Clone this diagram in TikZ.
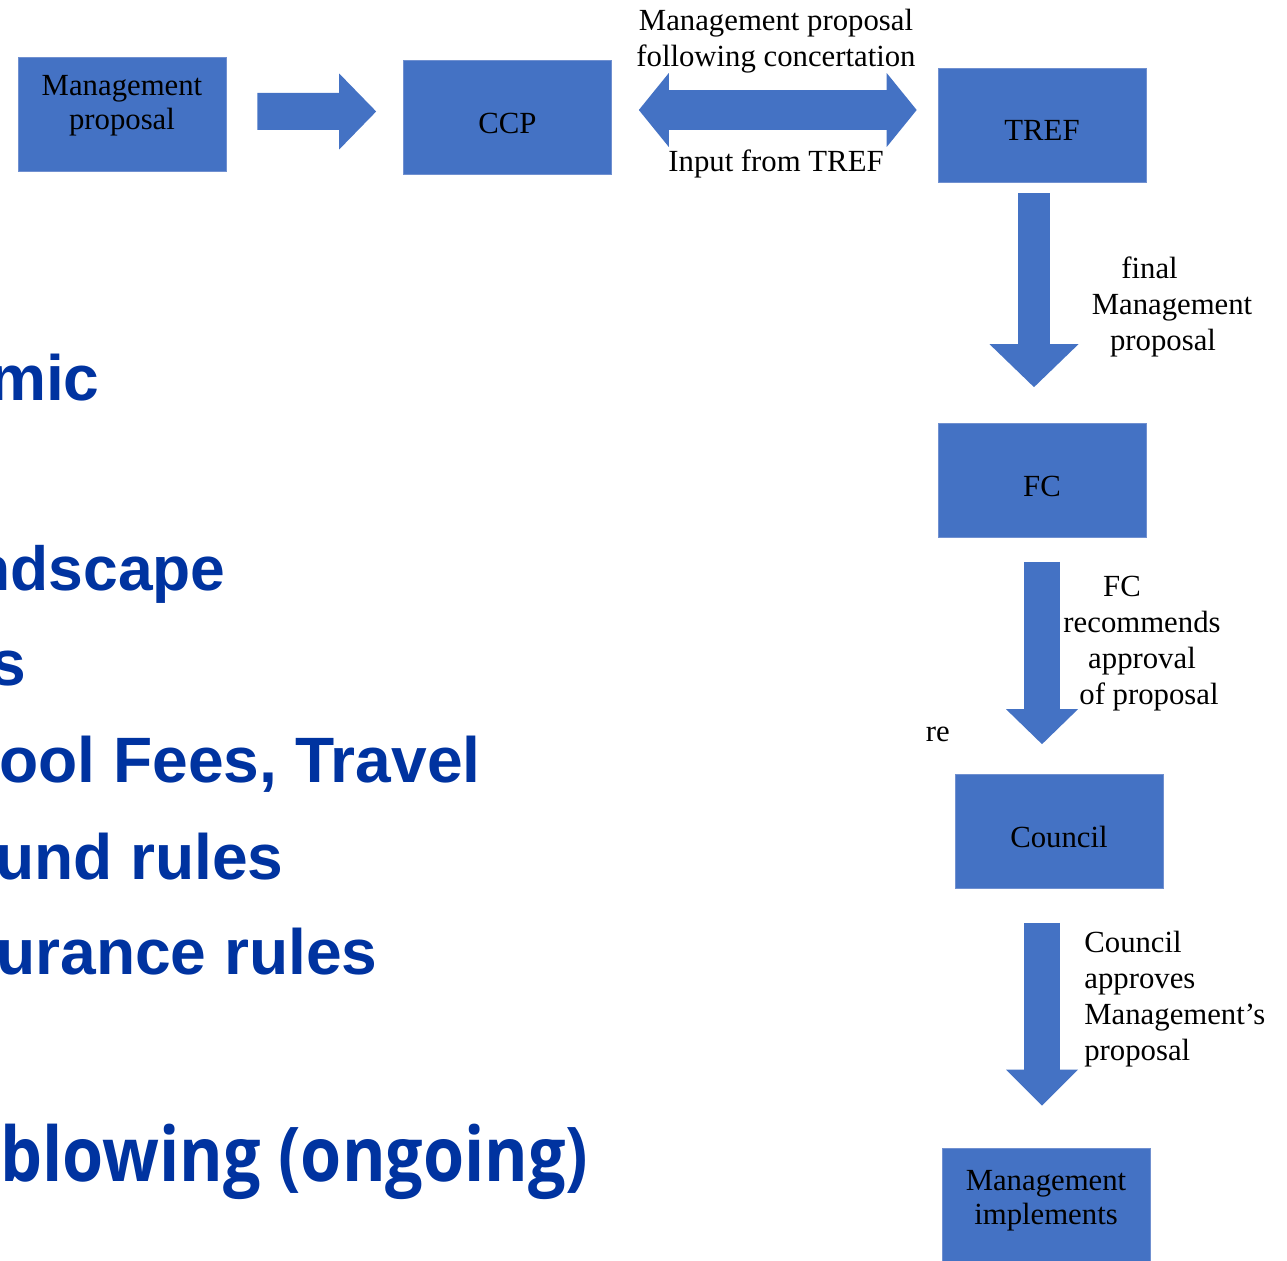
\documentclass[tikz,border=0pt]{standalone}
\usepackage{fontspec}
\setmainfont{Liberation Serif}
\setsansfont{Liberation Sans}
\newfontfamily\lastfont[FakeStretch=0.88]{Open Sans}
\usetikzlibrary{arrows.meta,calc}

\definecolor{boxblue}{HTML}{4472C4}
\definecolor{boxline}{HTML}{7090D0}
\definecolor{slideblue}{HTML}{0033A0}

% text in a box, moved up or down
\newcommand{\boxtext}[2]{\raisebox{#1}[\height][\depth]{\begin{tabular}{@{}c@{}}#2\end{tabular}}}

\begin{document}
\begin{tikzpicture}[x=0.02cm, y=-0.02cm,
	box/.style={draw=boxline, line width=0.4pt, fill=boxblue, minimum width=4.16cm, minimum height=2.28cm, inner sep=0pt, align=center, font=\fontsize{17.5}{19.5}\selectfont},
	lab/.style={align=center, inner sep=0pt, font=\fontsize{17.5}{20.5}\selectfont},
	slide/.style={anchor=base east, inner sep=0pt, text=slideblue, font=\sffamily\bfseries\fontsize{36.5}{40}\selectfont},
	fat/.style n args={3}{draw=boxblue, line width=#1, -{Triangle[width=#2, length=#3, line width=0pt, fill=boxblue]}},
	fatboth/.style n args={3}{draw=boxblue, line width=#1, {Triangle[width=#2, length=#3, line width=0pt, fill=boxblue]}-{Triangle[width=#2, length=#3, line width=0pt, fill=boxblue]}}]
	\useasboundingbox (0,0) rectangle (1287,1260);
	\clip (0,0) rectangle (1287,1260);

	% Slide text {cut at the left edge}
	\node [slide] (s1) at (100,400)  {mic};
	\node [slide, font=\sffamily\bfseries\fontsize{35.5}{40}\selectfont] (s2) at (226,590) {ndscape};
	\node [slide] (s3) at (27,685)   {s};
	\node [slide] (s4) at (481,782)  {ool Fees, Travel};
	\node [slide] (s5) at (284,879)  {und rules};
	\node [slide] (s6) at (378,974)  {urance rules};
	\node [slide, font=\lastfont\bfseries\fontsize{43}{48}\selectfont] (s7) at (589,1181) {blowing (ongoing)};
	\node [lab, anchor=base east] (frag) at (950,741) {re};

	% Nodes {mgmt, ccp, tref, fc, council, impl}
	\node [box] (mgmt)    at (122,114)     {\boxtext{0.16cm}{Management\\proposal}};
	\node [box] (ccp)     at (507.5,117.5) {\boxtext{-0.18cm}{CCP}};
	\node [box] (tref)    at (1042,125)    {\boxtext{-0.18cm}{TREF}};
	\node [box] (fc)      at (1042,480.5)  {\boxtext{-0.18cm}{FC}};
	\node [box] (council) at (1059,831.5)  {\boxtext{-0.18cm}{Council}};
	\node [box] (impl)    at (1046,1205)   {\boxtext{0.08cm}{Management\\implements}};

	% Arrow ends
	\coordinate (a1s) at ($(mgmt.east)+(31,-2.5)$);
	\coordinate (a1e) at ($(ccp.west)+(-27,-6)$);
	\coordinate (a2s) at ($(ccp.east)+(27,-7.5)$);
	\coordinate (a2e) at ($(tref.west)+(-21,-15)$);
	\coordinate (a3s) at ($(tref.south)+(-8,11)$);
	\coordinate (a3e) at ($(fc.north)+(-8,-36)$);
	\coordinate (a4s) at ($(fc.south)+(0,24)$);
	\coordinate (a4e) at ($(council.north)+(-17,-30)$);
	\coordinate (a5s) at ($(council.south)+(-17,34)$);
	\coordinate (a5e) at ($(impl.north)+(-4,-42)$);

	% Paths
	\draw [fat={0.74cm}{1.52cm}{0.74cm}]      (a1s) -- (a1e);
	\draw [fatboth={0.80cm}{1.48cm}{0.60cm}]  (a2s) -- (a2e);
	\draw [fat={0.64cm}{1.78cm}{0.86cm}]      (a3s) -- (a3e);
	\draw [fat={0.72cm}{1.44cm}{0.70cm}]      (a4s) -- (a4e);
	\draw [fat={0.72cm}{1.44cm}{0.72cm}]      (a5s) -- (a5e);

	% Labels
	\node [lab] (l1) at (776,41)   {Management proposal\\following concertation};
	\node [lab] (l2) at (776,164)  {Input from TREF};
	\node [lab] (l3) at (1172,307) {final\hspace*{0.9cm}\\Management\\proposal\hspace*{0.36cm}};
	\node [lab] (l4) at (1142,644) {FC\hspace*{0.8cm}\\recommends\\approval\\\hspace*{0.28cm}of proposal};
	\node [lab, align=left, anchor=west] (l5) at (1084,999) {Council\\approves\\Management’s\\proposal};
\end{tikzpicture}
\end{document}
